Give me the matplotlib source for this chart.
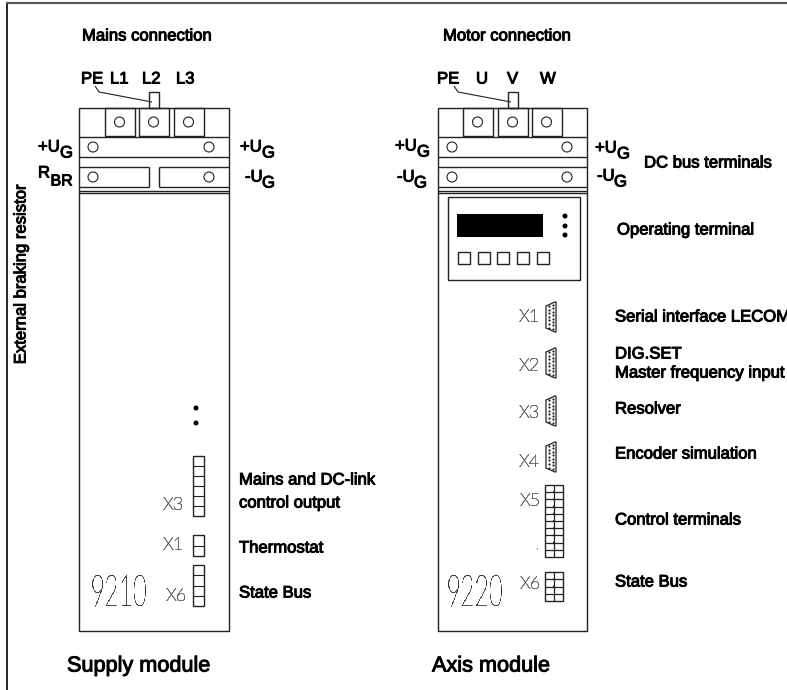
import numpy as np
import matplotlib
matplotlib.use('Agg')
import matplotlib.pyplot as plt
import matplotlib.patheffects as pe
from matplotlib.patches import Rectangle, Circle, Polygon

W, H = 787, 690
LINE = '#222222'

# module outlines: left, right
module_x = [(79, 229), (438, 587)]
band_y = [137, 157, 167, 187, 191, 193]
terminal_x = [[105, 139, 174], [463, 498, 532]]
bold_labels = [
    (82, 36, 'Mains connection'), (443, 36, 'Motor connection'),
    (81, 79, 'PE'), (110, 79, 'L1'), (142, 79, 'L2'), (176, 79, 'L3'),
    (437, 79, 'PE'), (476, 79, 'U'), (507, 79, 'V'), (540, 79, 'W'),
    (644, 163, 'DC bus terminals'), (617, 230, 'Operating terminal'),
    (615, 317, 'Serial interface LECOM'), (615, 354, 'DIG.SET'),
    (615, 373, 'Master frequency input'), (615, 409, 'Resolver'),
    (615, 454, 'Encoder simulation'), (615, 520, 'Control terminals'),
    (615, 582, 'State Bus'), (239, 480, 'Mains and DC-link'),
    (239, 503, 'control output'), (239, 548, 'Thermostat'), (239, 593, 'State Bus'),
]
ug_labels = [
    (38, 147, '+U'), (240, 147, '+U'), (245, 177, '-U'),
    (395, 146, '+U'), (397, 177, '-U'), (595, 148, '+U'), (597, 176, '-U'),
]
thin_labels = [(162, 505, 'X3'), (162, 545, 'X1'), (165, 596, 'X6'),
               (518, 317, 'X1'), (518, 366, 'X2'), (518, 413, 'X3'),
               (518, 462, 'X4'), (519, 501, 'X5'), (519, 584, 'X6')]
dsub_y = [302, 348, 396, 442]

fig = plt.figure(figsize=(W / 100, H / 100), dpi=100)
ax = fig.add_axes([0, 0, 1, 1])
ax.set_xlim(0, W)
ax.set_ylim(H, 0)
ax.axis('off')

def line(xs, ys, lw=1.0, color=LINE):
    ax.plot(xs, ys, color=color, lw=lw, solid_capstyle='butt')

def box(x0, y0, x1, y1, fc='none', lw=1.0):
    ax.add_patch(Rectangle((x0, y0), x1 - x0, y1 - y0, fc=fc, ec=LINE, lw=lw))

def ring(x, y, r=5):
    ax.add_patch(Circle((x, y), r, fc='white', ec=LINE, lw=0.8))

def dot(x, y, r=2.5):
    ax.add_patch(Circle((x, y), r, fc='black', ec='none'))

def bold(x, y, s, size=12, **kw):
    return ax.text(x, y, s, fontsize=size, family='Liberation Sans', va='center', color='black',
                   path_effects=[pe.withStroke(linewidth=0.7, foreground='black')], **kw)

def darken(img, dpi):
    # light font comes out too pale, the CAD lettering is thin but black
    img = img.copy()
    img[..., 3] = img[..., 3] ** 0.35
    return img, 0, 0

def squeeze(img, dpi):
    # the 9210/9220 digits are drawn very narrow
    img, _, _ = darken(img, dpi)
    h, w = img.shape[:2]
    new_w = int(w * 0.58)
    cols = np.linspace(0, w - 1, new_w).astype(int)
    return img[:, cols], (w - new_w) // 2 + 8, 0

# frame
line([6.5, 6.5], [3, H], lw=1.4)
line([6, W], [3, 3], lw=1.6, color='#555555')

# modules
for i, (x0, x1) in enumerate(module_x):
    box(x0, 108, x1, 631)
    for y in band_y:
        if i == 0 and y in (167, 187):
            line([x0, x0 + 70], [y, y])
            line([x0 + 80, x1], [y, y])
        else:
            line([x0, x1], [y, y])
    if i == 0:
        line([x0 + 70, x0 + 70], [167, 187])
        line([x0 + 80, x0 + 80], [167, 187])
    for tx in terminal_x[i]:
        box(tx, 108, tx + 30, 136)
        ring(tx + 14.5, 122)
    # PE tab and leader
    tab = terminal_x[i][1] + 10
    box(tab, 92, tab + 10, 108)
    line([x0 + 16, x0 + 20, x0 + 73], [86, 92, 102], lw=0.8)
    for cx, cy in [(x0 + 14, 147), (x1 - 20, 147), (x0 + 14, 177), (x1 - 20, 177)]:
        ring(cx, cy)

# operating terminal
box(448, 197, 580, 280)
ax.add_patch(Rectangle((457, 214), 86, 23, fc='black', ec='none'))
for y in [216, 226, 235]:
    dot(565, y)
for x in [458, 478, 497, 517, 537]:
    box(x, 252, x + 12, 264)

# D-sub connectors
for y in dsub_y:
    ax.add_patch(Polygon([(546, y + 4), (555, y), (556, y), (556, y + 30), (555, y + 30), (546, y + 26)],
                         closed=True, fc='white', ec=LINE, lw=0.9))
    ax.scatter([549] * 7 + [552.5] * 8, list(np.arange(7) * 3.6 + y + 4) + list(np.arange(8) * 3.4 + y + 3),
               s=2.5, c='#222222', linewidths=0)

# left module connector blocks
for y0, n, step in [(456, 6, 10), (535, 2, 10.5), (565, 4, 10.25)]:
    box(193, y0, 204, y0 + n * step)
    for k in range(1, n):
        line([193, 204], [y0 + k * step] * 2, lw=0.8)
dot(196, 408)
dot(196, 423)

# right module connector blocks
for y0, n, step in [(485, 10, 7.2), (572, 4, 7.3)]:
    box(545, y0, 563, y0 + n * step)
    line([554, 554], [y0, y0 + n * step], lw=0.9)
    for k in range(1, n):
        line([545, 563], [y0 + k * step] * 2, lw=0.9)
        if k < n - 1:
            dot(554, y0 + k * step, 1.0)
dot(537.5, 549, 0.5)

# texts
for x, y, s in bold_labels:
    bold(x, y, s)
for x, y, s in ug_labels:
    bold(x, y, s)
    bold(x + (22 if s[0] == '+' else 17), y + 6, 'G')
bold(38, 173, 'R')
bold(50.5, 181, 'BR', size=11.5)
bold(21, 274, 'External braking resistor', rotation=90, ha='center')
bold(67, 666, 'Supply module', size=15.6)
bold(432, 666, 'Axis module', size=15.6)

for x, y, s in thin_labels:
    t = ax.text(x, y, s, fontsize=13, family='Lato', weight='light', va='center', color='black')
    t.set_agg_filter(darken)
for x, s in [(110, '9210'), (467, '9220')]:
    t = ax.text(x, 594, s, fontsize=31, family='Lato', weight='light', ha='center', va='center', color='black')
    t.set_agg_filter(squeeze)

fig.savefig('out.png', dpi=100)
